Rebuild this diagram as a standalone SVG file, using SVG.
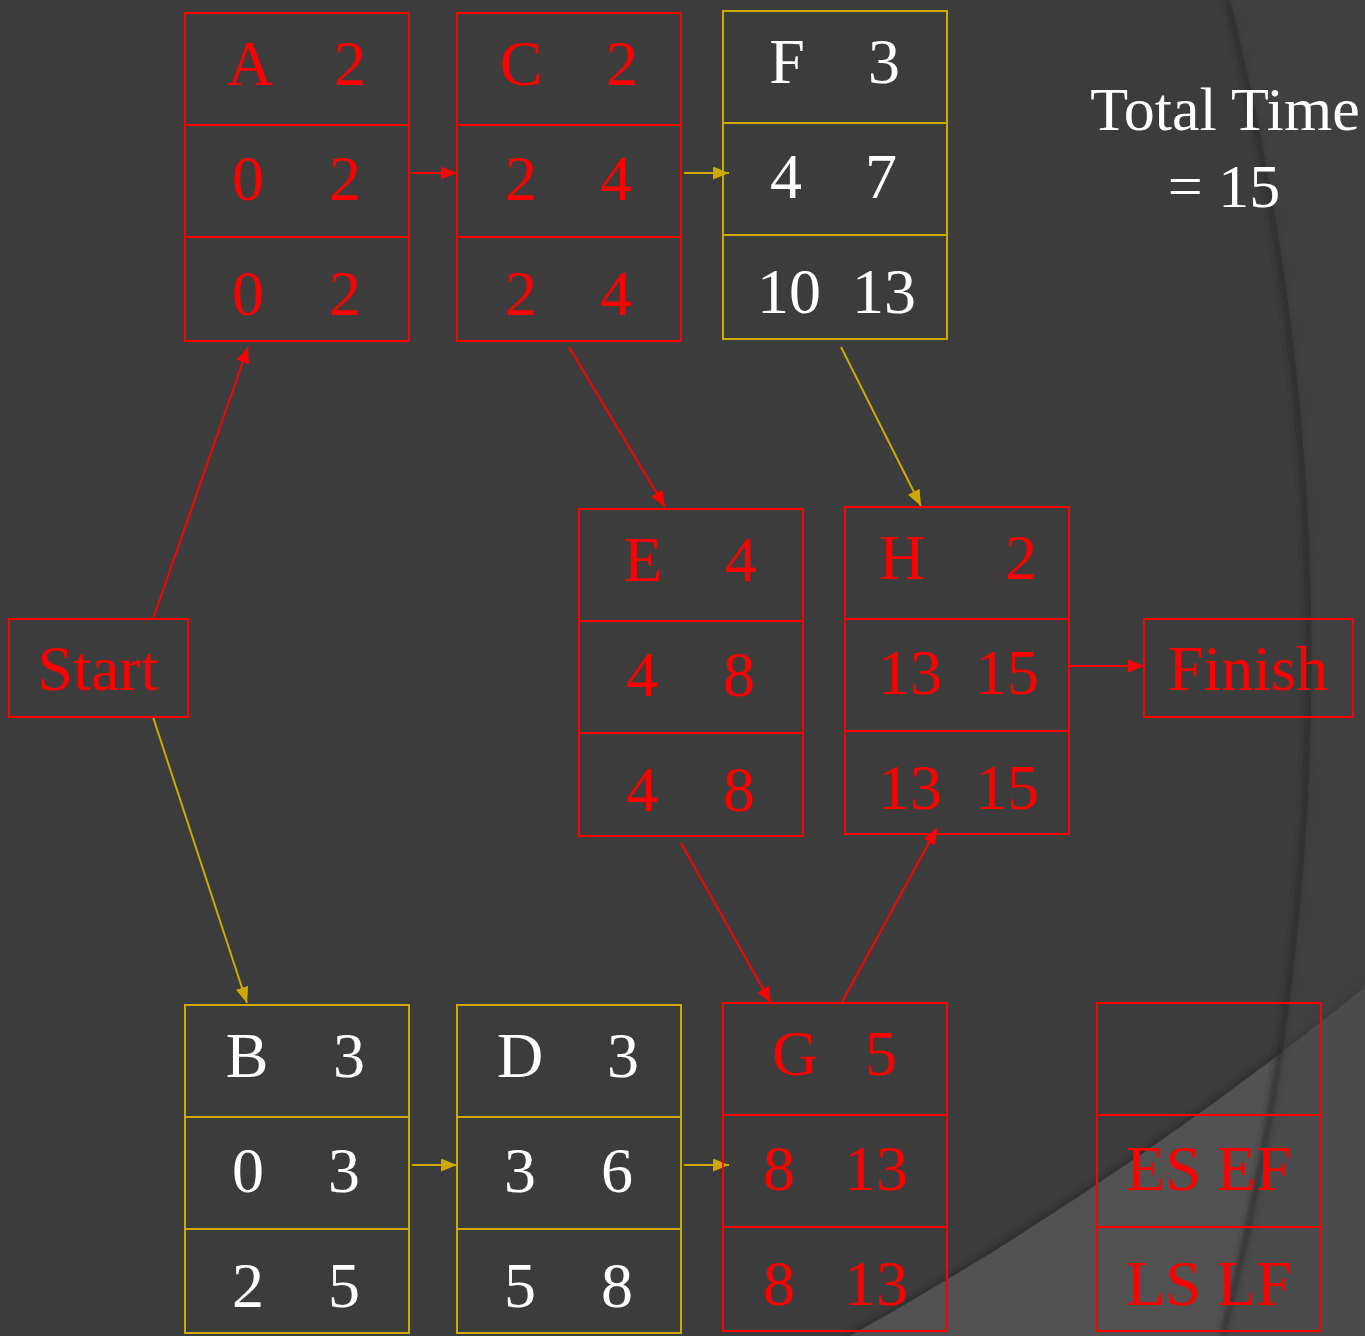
<svg xmlns="http://www.w3.org/2000/svg" width="1365" height="1336" viewBox="0 0 1365 1336">
<style>
.r{fill:none;stroke:#ff0000;stroke-width:2}
.y{fill:none;stroke:#ccaa00;stroke-width:2}
.t{font-family:"Liberation Serif","Times New Roman",serif;font-size:64px;text-anchor:middle}
.tr{fill:#ff0000}
.tw{fill:#ffffff}
.cr{stroke:#ff0000;stroke-width:2;fill:none}
.cy{stroke:#ccaa00;stroke-width:2;fill:none}
</style>
<defs>
<marker id="ar" markerUnits="userSpaceOnUse" markerWidth="17" markerHeight="14" refX="16" refY="6.5" orient="auto"><path d="M0,0 L16,6.5 L0,13 Z" fill="#ff0000"/></marker>
<marker id="ay" markerUnits="userSpaceOnUse" markerWidth="17" markerHeight="14" refX="16" refY="6.5" orient="auto"><path d="M0,0 L16,6.5 L0,13 Z" fill="#ccaa00"/></marker>
<filter id="bl" x="-10%" y="-10%" width="120%" height="120%"><feGaussianBlur stdDeviation="3"/></filter>
</defs>
<g id="background">
<rect x="0" y="0" width="1365" height="1336" fill="#3c3c3c"/>
<path d="M850,1336 A3669,3669 0 0 0 1365,987" fill="none" stroke="#2a2a2a" stroke-width="6" filter="url(#bl)"/>
<path d="M850,1336 A3669,3669 0 0 0 1365,987 L1365,1336 Z" fill="#525252"/>
<path d="M1228,0 A2700,2700 0 0 1 1223,1336" fill="none" stroke="#2a2a2a" stroke-width="6" filter="url(#bl)"/>
<path d="M1230,0 A2700,2700 0 0 1 1225,1336 L1365,1336 L1365,0 Z" fill="#454545" fill-opacity="0.52"/>
</g>
<g id="connectors">
<line class="cr" x1="411" y1="173" x2="457" y2="173" marker-end="url(#ar)"/>
<line class="cy" x1="684" y1="173" x2="729" y2="173" marker-end="url(#ay)"/>
<line class="cr" x1="153" y1="619" x2="248" y2="347" marker-end="url(#ar)"/>
<line class="cy" x1="153" y1="717" x2="247" y2="1003" marker-end="url(#ay)"/>
<line class="cr" x1="569" y1="347" x2="665" y2="507" marker-end="url(#ar)"/>
<line class="cy" x1="841" y1="347" x2="921" y2="506" marker-end="url(#ay)"/>
<line class="cr" x1="1069" y1="666" x2="1144" y2="666" marker-end="url(#ar)"/>
<line class="cr" x1="681" y1="843" x2="771" y2="1003" marker-end="url(#ar)"/>
<line class="cr" x1="842" y1="1002" x2="937" y2="828" marker-end="url(#ar)"/>
<line class="cy" x1="412" y1="1165" x2="457" y2="1165" marker-end="url(#ay)"/>
<line class="cy" x1="684" y1="1165" x2="729" y2="1165" marker-end="url(#ay)"/>
</g>
<g id="node-start">
<rect class="r" x="9" y="619" width="179" height="98"/>
<text class="t tr" x="98" y="690">Start</text>
</g>
<g id="node-finish">
<rect class="r" x="1144" y="619" width="209" height="98"/>
<text class="t tr" x="1248" y="690">Finish</text>
</g>
<g id="node-A">
<rect class="r" x="185" y="13" width="224" height="328"/>
<line class="r" x1="185" y1="125" x2="409" y2="125"/>
<line class="r" x1="185" y1="237" x2="409" y2="237"/>
<text class="t tr" x="250" y="85">A</text><text class="t tr" x="350" y="85">2</text>
<text class="t tr" x="248" y="200">0</text><text class="t tr" x="345" y="200">2</text>
<text class="t tr" x="248" y="315">0</text><text class="t tr" x="345" y="315">2</text>
</g>
<g id="node-C">
<rect class="r" x="457" y="13" width="224" height="328"/>
<line class="r" x1="457" y1="125" x2="681" y2="125"/>
<line class="r" x1="457" y1="237" x2="681" y2="237"/>
<text class="t tr" x="521" y="85">C</text><text class="t tr" x="622" y="85">2</text>
<text class="t tr" x="521" y="200">2</text><text class="t tr" x="616" y="200">4</text>
<text class="t tr" x="521" y="315">2</text><text class="t tr" x="616" y="315">4</text>
</g>
<g id="node-F">
<rect class="y" x="723" y="11" width="224" height="328"/>
<line class="y" x1="723" y1="123" x2="947" y2="123"/>
<line class="y" x1="723" y1="235" x2="947" y2="235"/>
<text class="t tw" x="787" y="83">F</text><text class="t tw" x="884" y="83">3</text>
<text class="t tw" x="786" y="198">4</text><text class="t tw" x="881" y="198">7</text>
<text class="t tw" x="789" y="313">10</text><text class="t tw" x="884" y="313">13</text>
</g>
<g id="node-E">
<rect class="r" x="579" y="509" width="224" height="327"/>
<line class="r" x1="579" y1="621" x2="803" y2="621"/>
<line class="r" x1="579" y1="733" x2="803" y2="733"/>
<text class="t tr" x="643" y="581">E</text><text class="t tr" x="741" y="581">4</text>
<text class="t tr" x="642" y="696">4</text><text class="t tr" x="739" y="696">8</text>
<text class="t tr" x="642" y="811">4</text><text class="t tr" x="739" y="811">8</text>
</g>
<g id="node-H">
<rect class="r" x="845" y="507" width="224" height="327"/>
<line class="r" x1="845" y1="619" x2="1069" y2="619"/>
<line class="r" x1="845" y1="731" x2="1069" y2="731"/>
<text class="t tr" x="902" y="579">H</text><text class="t tr" x="1021" y="579">2</text>
<text class="t tr" x="910" y="694">13</text><text class="t tr" x="1007" y="694">15</text>
<text class="t tr" x="910" y="809">13</text><text class="t tr" x="1007" y="809">15</text>
</g>
<g id="node-B">
<rect class="y" x="185" y="1005" width="224" height="328"/>
<line class="y" x1="185" y1="1117" x2="409" y2="1117"/>
<line class="y" x1="185" y1="1229" x2="409" y2="1229"/>
<text class="t tw" x="247" y="1077">B</text><text class="t tw" x="349" y="1077">3</text>
<text class="t tw" x="248" y="1192">0</text><text class="t tw" x="344" y="1192">3</text>
<text class="t tw" x="248" y="1307">2</text><text class="t tw" x="344" y="1307">5</text>
</g>
<g id="node-D">
<rect class="y" x="457" y="1005" width="224" height="328"/>
<line class="y" x1="457" y1="1117" x2="681" y2="1117"/>
<line class="y" x1="457" y1="1229" x2="681" y2="1229"/>
<text class="t tw" x="520" y="1077">D</text><text class="t tw" x="623" y="1077">3</text>
<text class="t tw" x="520" y="1192">3</text><text class="t tw" x="617" y="1192">6</text>
<text class="t tw" x="520" y="1307">5</text><text class="t tw" x="617" y="1307">8</text>
</g>
<g id="node-G">
<rect class="r" x="723" y="1003" width="224" height="328"/>
<line class="r" x1="723" y1="1115" x2="947" y2="1115"/>
<line class="r" x1="723" y1="1227" x2="947" y2="1227"/>
<text class="t tr" x="795" y="1075">G</text><text class="t tr" x="881" y="1075">5</text>
<text class="t tr" x="779" y="1190">8</text><text class="t tr" x="876" y="1190">13</text>
<text class="t tr" x="779" y="1305">8</text><text class="t tr" x="876" y="1305">13</text>
</g>
<g id="legend">
<rect class="r" x="1097" y="1003" width="224" height="328"/>
<line class="r" x1="1097" y1="1115" x2="1321" y2="1115"/>
<line class="r" x1="1097" y1="1227" x2="1321" y2="1227"/>
<text class="t tr" x="1209" y="1190">ES EF</text>
<text class="t tr" x="1209" y="1305">LS LF</text>
</g>
<g id="total-time">
<text class="t tw" x="1225" y="130" style="font-size:62px">Total Time</text>
<text class="t tw" x="1224" y="207" style="font-size:62px">= 15</text>
</g>
</svg>
